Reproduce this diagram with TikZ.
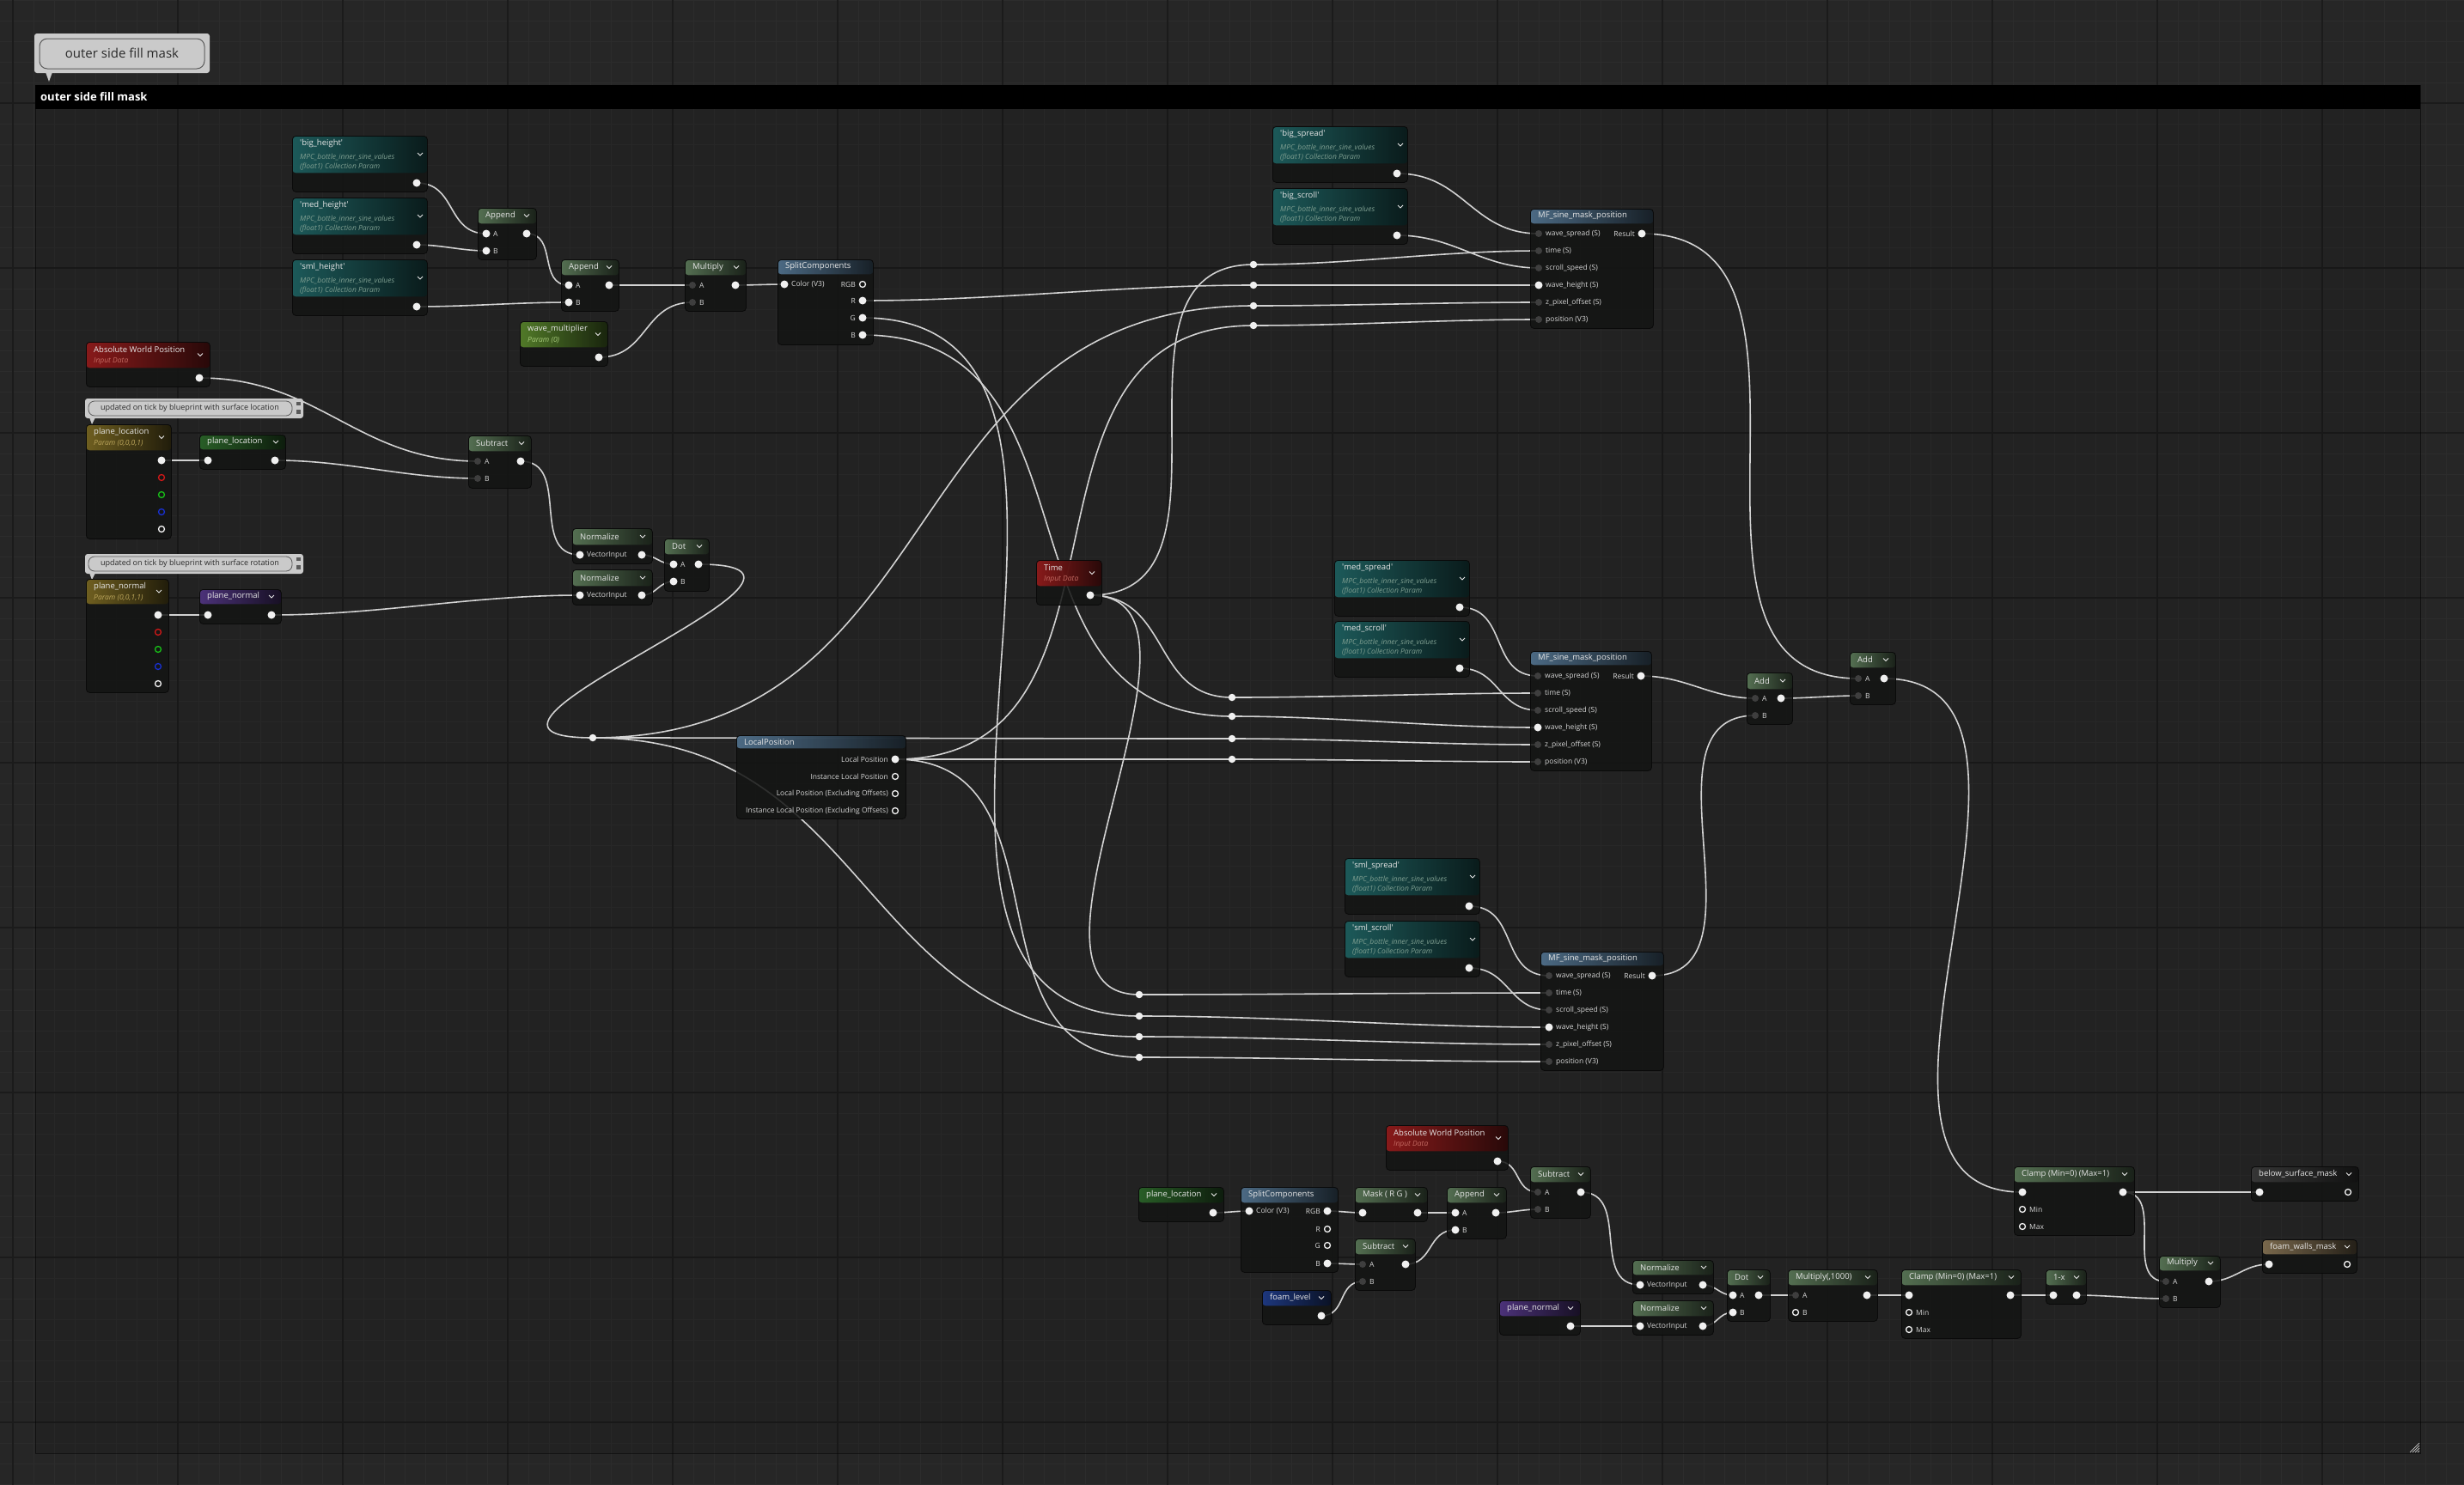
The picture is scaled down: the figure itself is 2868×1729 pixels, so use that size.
\documentclass[tikz,border=0pt]{standalone}
\usepackage{fontspec}
\setmainfont{Open Sans}
\usetikzlibrary{calc}
\pgfdeclarelayer{bg}
\pgfdeclarelayer{wires}
\pgfsetlayers{bg,wires,main}

\begin{document}
\begin{tikzpicture}[x=1pt, y=-1pt,
  gridminor/.style={GRIDMINOR, line width=1pt},
  gridmajor/.style={GRIDMAJOR, line width=1.6pt},
  matnode/.style 2 args={rounded corners=4pt, fill=BODY, fill opacity=0.86, draw=BORDER, line width=0.8pt, inner sep=0pt,
    path picture={\shade[left color=#1, right color=#1!28!black] (path picture bounding box.north west) rectangle ([yshift=-#2]path picture bounding box.north east);}},
  ttl/.style={font=\fontsize{9.5}{11}\selectfont, text=TITLE, inner sep=0pt, anchor=west},
  subttl/.style={font=\fontsize{8.5}{10}\selectfont\itshape, inner sep=0pt, anchor=west},
  lbl/.style={font=\fontsize{8.5}{10}\selectfont, text=LABEL, inner sep=0pt},
  chev/.style={draw=TITLE, line width=0.9pt},
  pinw/.style={circle, fill=PIN, inner sep=0pt, minimum size=9pt},
  ping/.style={circle, fill=PINOFF, inner sep=0pt, minimum size=8pt},
  pino/.style={circle, draw=PIN, line width=1.3pt, inner sep=0pt, minimum size=7pt},
  pinred/.style={pino, draw=PINRED},
  pingreen/.style={pino, draw=PINGREEN},
  pinblue/.style={pino, draw=PINBLUE},
  knot/.style={circle, fill=PIN, inner sep=0pt, minimum size=8.5pt},
  wire/.style={draw=WIRE, line width=1.6pt,
    to path={let \p1=(\tikztostart), \p2=(\tikztotarget),
      \n1={\x2>\x1 ? (abs(\x2-\x1)+abs(\y2-\y1))/3 : (3*min(abs(\x2-\x1),200)+1.5*min(abs(\y2-\y1),200))/3} in
      .. controls ([xshift=\n1]\tikztostart) and ([xshift=-\n1]\tikztotarget) .. (\tikztotarget)}},
  bubble/.style={fill=BUBBLE, rounded corners=3pt}]
\definecolor{CANVAS}{HTML}{262626}
\definecolor{GRIDMINOR}{HTML}{2C2C2C}
\definecolor{GRIDMAJOR}{HTML}{1B1B1B}
\definecolor{BODY}{HTML}{141514}
\definecolor{BORDER}{HTML}{0A0A0A}
\definecolor{TITLE}{HTML}{E6E6E6}
\definecolor{LABEL}{HTML}{D6D6D6}
\definecolor{PIN}{HTML}{F0F0F0}
\definecolor{PINOFF}{HTML}{3E3E3E}
\definecolor{WIRE}{HTML}{D2D2D2}
\definecolor{HDGREEN}{HTML}{5F7E5C}
\definecolor{HDBLUE}{HTML}{557896}
\definecolor{HDRED}{HTML}{9B1B1B}
\definecolor{HDTEAL}{HTML}{1E6565}
\definecolor{HDLGREEN}{HTML}{5B8A2C}
\definecolor{HDGOLD}{HTML}{7E6B22}
\definecolor{HDLOC}{HTML}{2C6A2A}
\definecolor{HDPURP}{HTML}{55378A}
\definecolor{HDFOAM}{HTML}{1F3D8F}
\definecolor{HDGRAY}{HTML}{3C3C3C}
\definecolor{HDTAN}{HTML}{8A7656}
\definecolor{SUBTEAL}{HTML}{7E9E90}
\definecolor{SUBRED}{HTML}{C46A62}
\definecolor{SUBLGREEN}{HTML}{A8CC7C}
\definecolor{SUBGOLD}{HTML}{BCA65C}
\definecolor{BUBBLE}{HTML}{CACACA}
\definecolor{BUBBLEEDGE}{HTML}{5A5A5A}
\definecolor{BUBBLETXT}{HTML}{2A2A2A}
\definecolor{PINRED}{HTML}{D01818}
\definecolor{PINGREEN}{HTML}{18C018}
\definecolor{PINBLUE}{HTML}{1830D0}
\useasboundingbox (0,0) rectangle (2868,1729);

% canvas, grid and comment frame
\begin{pgfonlayer}{bg}
\fill[CANVAS] (0,0) rectangle (2868,1729);
\foreach \gx in {15,39,...,2868}{\draw[gridminor] (\gx,0) -- (\gx,1729);}
\foreach \gy in {0,24,...,1729}{\draw[gridminor] (0,\gy) -- (2868,\gy);}
\foreach \gx in {15,207,...,2868}{\draw[gridmajor] (\gx,0) -- (\gx,1729);}
\foreach \gy in {120,312,...,1729}{\draw[gridmajor] (0,\gy) -- (2868,\gy);}
\fill[black, opacity=0.1] (41,127) rectangle (2817,1692);
\draw[black, opacity=0.5] (41,99) rectangle (2817,1692);
\fill[black] (41,99) rectangle (2817,127);
\foreach \k in {2,5,8,11}{\draw[BUBBLE, line width=0.7pt] (2816-\k,1691) -- (2816,1691-\k);}
\end{pgfonlayer}
\node[font=\bfseries\fontsize{13}{15}\selectfont, text=white, anchor=west, inner sep=0pt] (cmttitle) at (47,113) {outer side fill mask};
\fill[bubble] (40,39) rectangle (244,85);
\draw[BUBBLEEDGE, line width=1pt, rounded corners=9pt] (46,45) rectangle (238,80);
\fill[BUBBLE] (53,84) -- (61,84) -- (57,95) -- cycle;
\node[font=\fontsize{15}{17}\selectfont, text=BUBBLETXT] (cmtbubble) at (142,62) {outer side fill mask};
\foreach \n/\y/\t in {cmtloc/464/location, cmtrot/645/rotation}{
  \fill[bubble] (99,\y) rectangle (353,\y+23);
  \draw[BUBBLEEDGE, line width=0.8pt, rounded corners=7pt] (103,\y+3) rectangle (340,\y+20);
  \fill[BUBBLE] (104,\y+22) -- (111,\y+22) -- (107,\y+30) -- cycle;
  \fill[BUBBLEEDGE] (345,\y+4) rectangle (350,\y+8);
  \fill[BUBBLEEDGE] (345,\y+13) rectangle (350,\y+18);
  \node[font=\fontsize{9}{10}\selectfont, text=BUBBLETXT] (\n) at (221,\y+11.5) {updated on tick by blueprint with surface \t};
}

% collection parameter nodes
\foreach \n/\x/\y/\t in {bigH/340/158/big\_height, medH/340/230/med\_height, smlH/340/302/sml\_height,
  bigS/1481/147/big\_spread, bigSc/1481/219/big\_scroll, medS/1553/652/med\_spread,
  medSc/1553/723/med\_scroll, smlS/1565/999/sml\_spread, smlSc/1565/1072/sml\_scroll}{
  \node[matnode={HDTEAL}{43}, minimum width=157, minimum height=65, anchor=north west] (\n) at (\x,\y) {};
  \node[ttl] (\n-ttl) at (\x+9,\y+9) {\textquotesingle\t\textquotesingle};
  \node[subttl, text=SUBTEAL] (\n-s1) at (\x+9,\y+25) {MPC\_bottle\_inner\_sine\_values};
  \node[subttl, text=SUBTEAL] (\n-s2) at (\x+9,\y+36) {(float1) Collection Param};
  \draw[chev] (\x+146,\y+20) -- ++(3,3) -- ++(3,-3);
}
% nodes with a subtitle
\foreach \n/\x/\y/\w/\h/\hh/\c/\t/\sc/\s in {
  awp1/100/398/144/52/30/HDRED/Absolute World Position/SUBRED/Input Data,
  awp2/1613/1310/142/52/30/HDRED/Absolute World Position/SUBRED/Input Data,
  time/1206/652/76/52/30/HDRED/Time/SUBRED/Input Data,
  waveMul/605/374/102/52/30/HDLGREEN/wave\_multiplier/SUBLGREEN/Param (0),
  ploc/100/494/99/133/30/HDGOLD/plane\_location/SUBGOLD/{Param (0,0,0,1)},
  pnorm/100/674/96/132/29/HDGOLD/plane\_normal/SUBGOLD/{Param (0,0,1,1)}}{
  \node[matnode={\c}{\hh}, minimum width=\w, minimum height=\h, anchor=north west] (\n) at (\x,\y) {};
  \node[ttl] (\n-ttl) at (\x+9,\y+9) {\t};
  \node[subttl, text=\sc] (\n-s1) at (\x+9,\y+22.5) {\s};
  \draw[chev] (\x+\w-14,\y+\hh/2-1.5) -- ++(3,3) -- ++(3,-3);
}
% plain nodes
\foreach \n/\x/\y/\w/\h/\hh/\c/\v/\t in {
  app1/556/242/68/60/18/HDGREEN/1/Append, app2/653/302/67/60/18/HDGREEN/1/Append,
  mul1/797/302/71/60/18/HDGREEN/1/Multiply, split1/905/302/111/99/17/HDBLUE/0/SplitComponents,
  plocR/232/506/100/40/17/HDLOC/1/plane\_location, sub1/545/507/73/61/18/HDGREEN/1/Subtract,
  pnormR/232/686/95/40/17/HDPURP/1/plane\_normal,
  norm1/666/615/93/41/19/HDGREEN/1/Normalize, norm2/666/663/93/41/19/HDGREEN/1/Normalize,
  dot1/773/627/52/61/18/HDGREEN/1/Dot,
  mfBig/1781/243/143/139/17/HDBLUE/0/MF\_sine\_mask\_position,
  mfMed/1781/758/141/139/16/HDBLUE/0/MF\_sine\_mask\_position,
  localPos/857/856/197/97/15/HDBLUE/0/LocalPosition,
  mfSml/1793/1108/143/138/16/HDBLUE/0/MF\_sine\_mask\_position,
  add1/2033/783/53/60/19/HDGREEN/1/Add, add2/2153/759/53/61/18/HDGREEN/1/Add,
  plocR2/1325/1382/99/40/18/HDLOC/1/plane\_location,
  split2/1444/1382/113/99/18/HDBLUE/0/SplitComponents,
  mask/1577/1382/84/40/18/HDGREEN/1/Mask ( R G ), app3/1684/1382/69/60/18/HDGREEN/1/Append,
  sub2/1577/1442/70/60/18/HDGREEN/1/Subtract, foam/1469/1502/80/40/18/HDFOAM/1/foam\_level,
  sub3/1781/1358/70/60/18/HDGREEN/1/Subtract, pnormR2/1745/1514/94/40/18/HDPURP/1/plane\_normal,
  norm3/1900/1467/94/39/17/HDGREEN/1/Normalize, norm4/1900/1514/94/40/18/HDGREEN/1/Normalize,
  dot2/2010/1478/50/60/18/HDGREEN/1/Dot, mul2/2081/1478/104/60/18/HDGREEN/1/{Multiply(,1000)},
  clamp2/2213/1478/139/80/18/HDGREEN/1/Clamp (Min=0) (Max=1), onemx/2381/1478/47/40/18/HDGREEN/1/1-x,
  clamp1/2344/1358/140/80/18/HDGREEN/1/Clamp (Min=0) (Max=1),
  below/2620/1358/125/40/18/HDGRAY/1/below\_surface\_mask,
  mul3/2513/1462/71/60/17/HDGREEN/1/Multiply, foamW/2633/1443/110/39/17/HDTAN/1/foam\_walls\_mask}{
  \node[matnode={\c}{\hh}, minimum width=\w, minimum height=\h, anchor=north west] (\n) at (\x,\y) {};
  \node[ttl] (\n-ttl) at (\x+9,\y+\hh/2) {\t};
  \ifnum\v=1 \draw[chev] (\x+\w-14,\y+\hh/2-1.5) -- ++(3,3) -- ++(3,-3); \fi
}

% input pins with labels
\foreach \n/\x/\y/\s/\l in {app1-A/566/272/pinw/A, app1-B/566/292/pinw/B, app2-A/662/332/pinw/A, app2-B/662/352/pinw/B,
  mul1-A/806/332/ping/A, mul1-B/806/352/ping/B, split1-C/913/331/pinw/Color (V3),
  sub1-A/556/537/ping/A, sub1-B/556/557/ping/B, norm1-i/675/646/pinw/VectorInput, norm2-i/675/693/pinw/VectorInput,
  dot1-A/784/657/pinw/A, dot1-B/784/677/pinw/B, add1-A/2043/813/ping/A, add1-B/2043/833/ping/B,
  add2-A/2163/790/ping/A, add2-B/2163/810/ping/B, split2-C/1454/1410/pinw/Color (V3),
  app3-A/1694/1412/pinw/A, app3-B/1694/1432/pinw/B, sub2-A/1586/1472/ping/A, sub2-B/1586/1492/ping/B,
  sub3-A/1790/1388/ping/A, sub3-B/1790/1408/ping/B, norm3-i/1909/1496/pinw/VectorInput, norm4-i/1909/1544/pinw/VectorInput,
  dot2-A/2017/1508/pinw/A, dot2-B/2017/1528/pinw/B, mul2-A/2090/1508/ping/A, mul2-B/2090/1528/pino/B,
  clamp2-mn/2222/1528/pino/Min, clamp2-mx/2222/1548/pino/Max, clamp1-mn/2354/1408/pino/Min, clamp1-mx/2354/1428/pino/Max,
  mul3-A/2521/1492/ping/A, mul3-B/2521/1512/ping/B}{
  \node[\s] (\n) at (\x,\y) {};
  \node[lbl, anchor=west] (\n-lbl) at (\x+8,\y) {\l};
}
\foreach \m/\x/\y in {mfBig/1791/272, mfMed/1790/787, mfSml/1803/1136}{
  \foreach \k/\s/\l [count=\i from 0] in {ws/ping/wave\_spread (S), tm/ping/time (S), sc/ping/scroll\_speed (S),
    wh/pinw/wave\_height (S), z/ping/z\_pixel\_offset (S), p/ping/position (V3)}{
    \node[\s] (\m-\k) at (\x,\y+20*\i) {};
    \node[lbl, anchor=west] (\m-\k-lbl) at (\x+8,\y+20*\i) {\l};
  }
}
% output pins with labels
\foreach \n/\x/\y/\s/\l in {split1-RGB/1004/331/pino/RGB, split1-R/1004/350/pinw/R, split1-G/1004/370/pinw/G, split1-B/1004/390/pinw/B,
  mfBig-r/1911/272/pinw/Result, mfMed-r/1910/787/pinw/Result, mfSml-r/1923/1136/pinw/Result,
  localPos-o/1042/884/pinw/Local Position, localPos-o2/1042/904/pino/Instance Local Position,
  localPos-o3/1042/924/pino/Local Position (Excluding Offsets), localPos-o4/1042/944/pino/Instance Local Position (Excluding Offsets),
  split2-RGB/1545/1410/pinw/RGB, split2-R/1545/1431/pino/R, split2-G/1545/1450/pino/G, split2-B/1545/1471/pinw/B}{
  \node[\s] (\n) at (\x,\y) {};
  \node[lbl, anchor=east] (\n-lbl) at (\x-8,\y) {\l};
}
% pins without labels
\foreach \n/\x/\y/\s in {bigH-o/485/213/pinw, medH-o/485/285/pinw, smlH-o/485/357/pinw, app1-o/613/272/pinw,
  app2-o/709/332/pinw, mul1-o/856/332/pinw, waveMul-o/697/416/pinw, awp1-o/232/440/pinw,
  ploc-o/188/536/pinw, ploc-r/188/556/pinred, ploc-g/188/576/pingreen, ploc-b/188/596/pinblue, ploc-a/188/616/pino,
  plocR-i/242/536/pinw, plocR-o/320/536/pinw, sub1-o/606/537/pinw,
  pnorm-o/184/716/pinw, pnorm-r/184/736/pinred, pnorm-g/184/756/pingreen, pnorm-b/184/776/pinblue, pnorm-a/184/796/pino,
  pnormR-i/242/716/pinw, pnormR-o/316/716/pinw, norm1-o/747/646/pinw, norm2-o/747/693/pinw, dot1-o/813/657/pinw,
  bigS-o/1626/202/pinw, bigSc-o/1626/274/pinw, time-o/1269/693/pinw, medS-o/1699/707/pinw, medSc-o/1699/778/pinw,
  smlS-o/1710/1055/pinw, smlSc-o/1710/1127/pinw, add1-o/2073/813/pinw, add2-o/2193/790/pinw,
  awp2-o/1743/1352/pinw, plocR2-o/1412/1412/pinw, mask-i/1586/1412/pinw, mask-o/1650/1412/pinw,
  app3-o/1741/1412/pinw, sub2-o/1636/1472/pinw, foam-o/1538/1532/pinw, sub3-o/1840/1388/pinw,
  pnormR2-o/1828/1544/pinw, norm3-o/1982/1496/pinw, norm4-o/1982/1544/pinw, dot2-o/2047/1508/pinw,
  mul2-o/2173/1508/pinw, clamp2-i/2222/1508/pinw, clamp2-o/2340/1508/pinw, onemx-i/2390/1508/pinw,
  onemx-o/2417/1508/pinw, clamp1-i/2354/1388/pinw, clamp1-o/2471/1388/pinw, below-i/2630/1388/pinw,
  below-o/2733/1388/pino, mul3-o/2571/1492/pinw, foamW-i/2641/1472/pinw, foamW-o/2732/1472/pino}{
  \node[\s] (\n) at (\x,\y) {};
}
% reroute knots
\foreach \n/\x/\y in {kD/690/859, kBt/1459/308, kBh/1459/332, kBz/1459/356, kBp/1459/379,
  kMt/1434/812, kMh/1434/834, kMz/1434/860, kMp/1434/884,
  kSt/1326/1158, kSh/1326/1183, kSz/1326/1207, kSp/1326/1231}{
  \node[knot] (\n) at (\x,\y) {};
}

% connections
\begin{pgfonlayer}{wires}
\foreach \a/\b in {bigH-o/app1-A, medH-o/app1-B, app1-o/app2-A, smlH-o/app2-B, app2-o/mul1-A, waveMul-o/mul1-B,
  mul1-o/split1-C, awp1-o/sub1-A, ploc-o/plocR-i, plocR-o/sub1-B, sub1-o/norm1-i, pnorm-o/pnormR-i,
  pnormR-o/norm2-i, norm1-o/dot1-A, norm2-o/dot1-B, dot1-o/kD,
  kD/kBz, kD/kMz, kD/kSz, localPos-o/kBp, localPos-o/kMp, localPos-o/kSp,
  time-o/kBt, time-o/kMt, time-o/kSt, split1-R/kBh, split1-B/kMh, split1-G/kSh,
  kBt/mfBig-tm, kBh/mfBig-wh, kBz/mfBig-z, kBp/mfBig-p, bigS-o/mfBig-ws, bigSc-o/mfBig-sc,
  kMt/mfMed-tm, kMh/mfMed-wh, kMz/mfMed-z, kMp/mfMed-p, medS-o/mfMed-ws, medSc-o/mfMed-sc,
  kSt/mfSml-tm, kSh/mfSml-wh, kSz/mfSml-z, kSp/mfSml-p, smlS-o/mfSml-ws, smlSc-o/mfSml-sc,
  mfBig-r/add2-A, mfMed-r/add1-A, mfSml-r/add1-B, add1-o/add2-B, add2-o/clamp1-i,
  clamp1-o/below-i, clamp1-o/mul3-A,
  plocR2-o/split2-C, split2-RGB/mask-i, mask-o/app3-A, split2-B/sub2-A, foam-o/sub2-B, sub2-o/app3-B,
  awp2-o/sub3-A, app3-o/sub3-B, sub3-o/norm3-i, pnormR2-o/norm4-i, norm3-o/dot2-A, norm4-o/dot2-B,
  dot2-o/mul2-A, mul2-o/clamp2-i, clamp2-o/onemx-i, onemx-o/mul3-B, mul3-o/foamW-i}{
  \draw[wire] (\a.center) to (\b.center);
}
\end{pgfonlayer}
\end{tikzpicture}
\end{document}
